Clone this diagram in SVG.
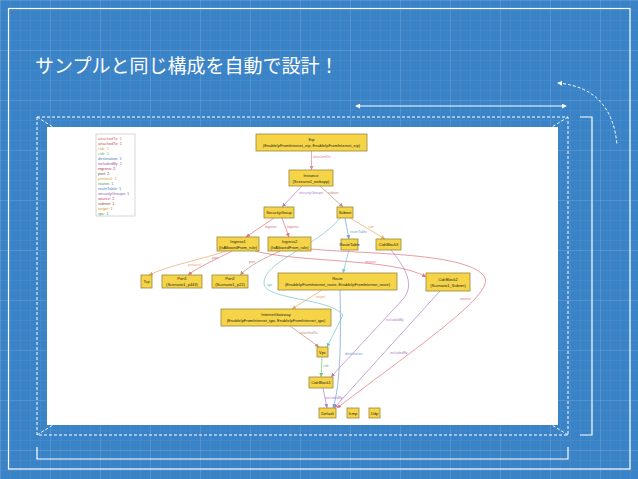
<svg xmlns="http://www.w3.org/2000/svg" width="638" height="479" viewBox="0 0 638 479">
<defs>
<pattern id="g1" width="10" height="10" patternUnits="userSpaceOnUse"><path d="M10 0H0V10" fill="none" stroke="#ffffff" stroke-opacity="0.13" stroke-width="0.6"/></pattern>
<pattern id="g2" width="50" height="50" patternUnits="userSpaceOnUse"><path d="M50 0H0V50" fill="none" stroke="#ffffff" stroke-opacity="0.22" stroke-width="0.8"/></pattern>
<marker id="aw" viewBox="0 0 6 6" refX="5" refY="3" markerWidth="5" markerHeight="5" markerUnits="userSpaceOnUse" orient="auto-start-reverse"><path d="M0,0L6,3L0,6z" fill="#fff"/></marker>
<marker id="mRed" viewBox="0 0 6 6" refX="6" refY="3" markerWidth="4" markerHeight="4" markerUnits="userSpaceOnUse" orient="auto"><path d="M0,0L6,3L0,6z" fill="#e0707a"/></marker>
<marker id="mPink" viewBox="0 0 6 6" refX="6" refY="3" markerWidth="4" markerHeight="4" markerUnits="userSpaceOnUse" orient="auto"><path d="M0,0L6,3L0,6z" fill="#d98a9a"/></marker>
<marker id="mPurple" viewBox="0 0 6 6" refX="6" refY="3" markerWidth="4" markerHeight="4" markerUnits="userSpaceOnUse" orient="auto"><path d="M0,0L6,3L0,6z" fill="#b07cc6"/></marker>
<marker id="mBrown" viewBox="0 0 6 6" refX="6" refY="3" markerWidth="4" markerHeight="4" markerUnits="userSpaceOnUse" orient="auto"><path d="M0,0L6,3L0,6z" fill="#c48a78"/></marker>
<marker id="mBlue" viewBox="0 0 6 6" refX="6" refY="3" markerWidth="4" markerHeight="4" markerUnits="userSpaceOnUse" orient="auto"><path d="M0,0L6,3L0,6z" fill="#6f9fd6"/></marker>
<marker id="mTeal" viewBox="0 0 6 6" refX="6" refY="3" markerWidth="4" markerHeight="4" markerUnits="userSpaceOnUse" orient="auto"><path d="M0,0L6,3L0,6z" fill="#74c4c0"/></marker>
<marker id="mOrange" viewBox="0 0 6 6" refX="6" refY="3" markerWidth="4" markerHeight="4" markerUnits="userSpaceOnUse" orient="auto"><path d="M0,0L6,3L0,6z" fill="#e8a868"/></marker>
<marker id="mGreen" viewBox="0 0 6 6" refX="6" refY="3" markerWidth="4" markerHeight="4" markerUnits="userSpaceOnUse" orient="auto"><path d="M0,0L6,3L0,6z" fill="#7cc47c"/></marker>
<style>
.fr{fill:none;stroke:#fff;stroke-width:1.2}
.dash{fill:none;stroke:#fff;stroke-width:1;stroke-dasharray:3 2}
.n rect{fill:#f5d547;stroke:#9c8540;stroke-width:0.8}
.n text{font-family:"Liberation Sans",Arial,sans-serif;font-size:4px;fill:#222;text-anchor:middle}
.e{fill:none;stroke-width:0.7}
.lb{font-family:"Liberation Sans",Arial,sans-serif;font-size:3.6px}
.lg{font-family:"Liberation Sans",Arial,sans-serif;font-size:4px}
.red{stroke:#e0707a}.pink{stroke:#d98a9a}.purple{stroke:#b07cc6}.brown{stroke:#c48a78}
.blue{stroke:#6f9fd6}.teal{stroke:#74c4c0}.orange{stroke:#e8a868}.green{stroke:#7cc47c}
.tred{fill:#e0707a}.tpink{fill:#d98a9a}.tpurple{fill:#b07cc6}.tbrown{fill:#c48a78}
.tblue{fill:#6f9fd6}.tteal{fill:#5fb0ac}.torange{fill:#e8a868}.tgreen{fill:#6cb86c}
</style>
</defs>
<rect width="638" height="479" fill="#3b83c7"/>
<rect width="638" height="479" fill="url(#g1)"/>
<rect width="638" height="479" fill="url(#g2)"/>

<g id="frame">
<rect class="fr" x="8.5" y="8.5" width="621.5" height="460.5"/>
<text x="35" y="73" font-family="'Noto Sans CJK JP',sans-serif" font-size="19" fill="#fff">サンプルと同じ構成を自動で設計！</text>
<line x1="356" y1="106" x2="566" y2="106" stroke="#fff" stroke-width="1" marker-start="url(#aw)" marker-end="url(#aw)"/>
<path class="dash" d="M558,83 Q612,88 617,145" marker-start="url(#aw)"/>
<rect class="dash" x="37" y="117" width="531" height="318"/>
<path class="dash" d="M37,117L53,127M568,117L552,127M37,435L53,425M568,435L552,425"/>
<rect x="47" y="127" width="511" height="298" fill="#fff"/>
<path class="fr" d="M580,117H592V435H580"/>
<path class="fr" d="M37,447V459H568V447"/>
</g>

<g id="legend">
<rect x="96" y="134" width="39" height="82" fill="#fff" stroke="#bbb" stroke-width="0.6"/>
<text class="lg" x="98" y="139.5" fill="#d46a6a">attachedTo: 1</text>
<text class="lg" x="98" y="144.5" fill="#b85a5a">attachedTo: 1</text>
<text class="lg" x="98" y="149.5" fill="#e8a050">cidr: 1</text>
<text class="lg" x="98" y="154.5" fill="#5cb08a">cidr: 1</text>
<text class="lg" x="98" y="159.5" fill="#4a7fb5">destination: 1</text>
<text class="lg" x="98" y="164.5" fill="#9a5ab0">includedBy: 1</text>
<text class="lg" x="98" y="169.5" fill="#b03050">ingress: 2</text>
<text class="lg" x="98" y="174.5" fill="#555">port: 2</text>
<text class="lg" x="98" y="179.5" fill="#e0a040">protocol: 1</text>
<text class="lg" x="98" y="184.5" fill="#40a070">routes: 1</text>
<text class="lg" x="98" y="189.5" fill="#5080c0">routeTable: 1</text>
<text class="lg" x="98" y="194.5" fill="#9060b0">securityGroups: 1</text>
<text class="lg" x="98" y="199.5" fill="#d04050">source: 2</text>
<text class="lg" x="98" y="204.5" fill="#7a5a3a">subnet: 1</text>
<text class="lg" x="98" y="209.5" fill="#e09030">target: 1</text>
<text class="lg" x="98" y="214.5" fill="#40a050">vpc: 1</text>
</g>

<g id="edges">
<path class="e pink" d="M311.5,151L311.5,170" marker-end="url(#mPink)"/>
<text class="lb tpink" x="313" y="158">attachedTo</text>
<path class="e purple" d="M302,186L282,207" marker-end="url(#mPurple)"/>
<path class="e brown" d="M320,186L343,207" marker-end="url(#mBrown)"/>
<text class="lb tpurple" x="299" y="194">securityGroups</text>
<text class="lb tbrown" x="328" y="194">subnet</text>
<path class="e red" d="M274,218L246,237" marker-end="url(#mRed)"/>
<text class="lb tred" x="265" y="228">ingress</text>
<path class="e red" d="M282,218L289,237" marker-end="url(#mRed)"/>
<text class="lb tred" x="287" y="228">ingress</text>
<path class="e blue" d="M345,218L349,239" marker-end="url(#mBlue)"/>
<text class="lb tblue" x="350" y="233">routeTable</text>
<path class="e orange" d="M350,218L385,239" marker-end="url(#mOrange)"/>
<text class="lb torange" x="368" y="228">cidr</text>
<path class="e orange" d="M226,251C200,260 170,265 149,275" marker-end="url(#mOrange)"/>
<text class="lb torange" x="188" y="266">protocol</text>
<path class="e red" d="M232,251C215,260 200,266 188,275" marker-end="url(#mRed)"/>
<text class="lb tred" x="212" y="259">port</text>
<path class="e brown" d="M280,251C265,258 250,265 240,275" marker-end="url(#mBrown)"/>
<text class="lb tbrown" x="249" y="263">port</text>
<path class="e red" d="M255,251C300,263 395,258 426,277" marker-end="url(#mRed)"/>
<text class="lb tred" x="365" y="263">source</text>
<path class="e red" d="M311,249C360,254 472,252 485,278C492,296 420,345 337,408" marker-end="url(#mRed)"/>
<text class="lb tred" x="460" y="300">source</text>
<path class="e teal" d="M349,250L343,273" marker-end="url(#mTeal)"/>
<path class="e blue" d="M340,290C341,330 341,385 333,408" marker-end="url(#mBlue)"/>
<text class="lb tblue" x="345" y="355">destination</text>
<path class="e orange" d="M322,290L292,309" marker-end="url(#mOrange)"/>
<text class="lb torange" x="316" y="298">target</text>
<path class="e brown" d="M290,326L319,347" marker-end="url(#mBrown)"/>
<text class="lb tbrown" x="300" y="334">attachedTo</text>
<path class="e teal" d="M340,218C318,246 262,262 264,284C266,300 330,298 343,315L327,347" marker-end="url(#mTeal)"/>
<text class="lb tteal" x="267" y="286">vpc</text>
<path class="e green" d="M322,357L321,377" marker-end="url(#mGreen)"/>
<text class="lb tgreen" x="323" y="367">cidr</text>
<path class="e purple" d="M323,388L327,408" marker-end="url(#mPurple)"/>
<text class="lb tpurple" x="325" y="399">includedBy</text>
<path class="e purple" d="M391,250C402,264 416,282 404,298L331,377" marker-end="url(#mPurple)"/>
<text class="lb tpurple" x="386" y="321">includedBy</text>
<path class="e purple" d="M440,291L334,408" marker-end="url(#mPurple)"/>
<text class="lb tpurple" x="390" y="354">includedBy</text>
</g>

<g id="Eip" class="n"><rect x="256" y="134" width="111" height="17"/><text x="311.5" y="141">Eip</text><text x="311.5" y="147">(EnableIpFromInternet_eip, EnableIpFromInternet_eip)</text></g>
<g id="Instance" class="n"><rect x="289" y="170" width="44" height="16"/><text x="311" y="177">Instance</text><text x="311" y="183">(Scenario1_webapp)</text></g>
<g id="SecurityGroup" class="n"><rect x="264" y="207" width="30" height="11"/><text x="279" y="214">SecurityGroup</text></g>
<g id="Subnet" class="n"><rect x="337" y="207" width="16" height="11"/><text x="345" y="214">Subnet</text></g>
<g id="Ingress1" class="n"><rect x="217" y="237" width="42" height="14"/><text x="238" y="243">Ingress1</text><text x="238" y="248.5">(IsAllowedFrom_rule)</text></g>
<g id="Ingress2" class="n"><rect x="268" y="237" width="43" height="14"/><text x="289.5" y="243">Ingress2</text><text x="289.5" y="248.5">(IsAllowedFrom_rule)</text></g>
<g id="RouteTable" class="n"><rect x="341" y="239" width="17" height="11"/><text x="349.5" y="246">RouteTable</text></g>
<g id="CidrBlock3" class="n"><rect x="376" y="239" width="25" height="11"/><text x="388.5" y="246">CidrBlock3</text></g>
<g id="Tcp" class="n"><rect x="141" y="275" width="11" height="13"/><text x="146.5" y="283">Tcp</text></g>
<g id="Port1" class="n"><rect x="162" y="275" width="40" height="13"/><text x="182" y="280">Port1</text><text x="182" y="285.5">(Scenario1_p443)</text></g>
<g id="Port2" class="n"><rect x="212" y="275" width="36" height="13"/><text x="230" y="280">Port2</text><text x="230" y="285.5">(Scenario1_p22)</text></g>
<g id="Route" class="n"><rect x="278" y="273" width="119" height="17"/><text x="337.5" y="280">Route</text><text x="337.5" y="286">(EnableIpFromInternet_route, EnableIpFromInternet_route)</text></g>
<g id="CidrBlock2" class="n"><rect x="426" y="273" width="44" height="18"/><text x="448" y="280.5">CidrBlock2</text><text x="448" y="286.5">(Scenario1_Subnet)</text></g>
<g id="InternetGateway" class="n"><rect x="221" y="309" width="110" height="17"/><text x="276" y="316">InternetGateway</text><text x="276" y="322">(EnableIpFromInternet_igw, EnableIpFromInternet_igw)</text></g>
<g id="Vpc" class="n"><rect x="317" y="347" width="11" height="10"/><text x="322.5" y="353.5">Vpc</text></g>
<g id="CidrBlock1" class="n"><rect x="309" y="377" width="24" height="11"/><text x="321" y="384">CidrBlock1</text></g>
<g id="Default" class="n"><rect x="319" y="408" width="17" height="10"/><text x="327.5" y="414.5">Default</text></g>
<g id="Icmp" class="n"><rect x="347" y="408" width="12" height="10"/><text x="353" y="414.5">Icmp</text></g>
<g id="Udp" class="n"><rect x="369" y="408" width="11" height="10"/><text x="374.5" y="414.5">Udp</text></g>
</svg>
